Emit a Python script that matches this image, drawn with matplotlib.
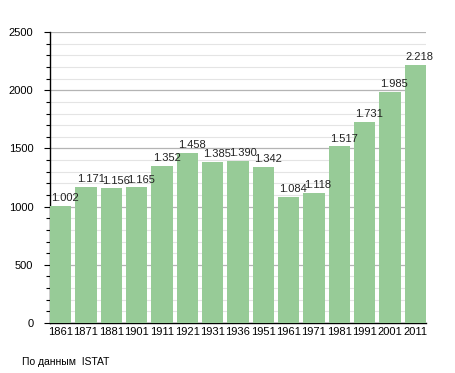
import matplotlib
matplotlib.use('Agg')
import matplotlib.pyplot as plt
from matplotlib.ticker import MultipleLocator

years = ['1861', '1871', '1881', '1901', '1911', '1921', '1931', '1936',
         '1951', '1961', '1971', '1981', '1991', '2001', '2011']
population = [1002, 1171, 1156, 1165, 1352, 1458, 1385, 1390,
              1342, 1084, 1118, 1517, 1731, 1985, 2218]
source = 'По данным  ISTAT'

plt.rcParams['font.family'] = ['Liberation Sans', 'DejaVu Sans']

fig = plt.figure(figsize=(4.55, 3.73), dpi=100)
ax = fig.add_axes([0.11, 0.134, 0.826, 0.78])

width = 0.84
x = list(range(len(years)))
ax.bar(x, population, width=width, color='#97cb97', zorder=3)

for xi, val in zip(x, population):
    label = '{:,}'.format(val).replace(',', '.')
    ax.text(xi - width / 2 + 0.05, val + 25, label, ha='left', va='bottom',
            fontsize=8, color='#222222', zorder=4)

ax.set_xlim(-width / 2, len(years) - 1 + width / 2)
ax.set_ylim(0, 2500)
ax.yaxis.set_major_locator(MultipleLocator(500))
ax.yaxis.set_minor_locator(MultipleLocator(100))
ax.grid(axis='y', which='major', color='#b4b4b4', linewidth=0.9, zorder=0)
ax.grid(axis='y', which='minor', color='#e4e4e4', linewidth=0.8, zorder=0)

ax.set_xticks(x)
ax.set_xticklabels(years)
ax.tick_params(axis='x', length=0, pad=3, labelsize=8)
ax.tick_params(axis='y', which='major', length=4, width=0.8, labelsize=8, pad=8)
ax.tick_params(axis='y', which='minor', length=3, width=0.8)

for side in ['top', 'right']:
    ax.spines[side].set_visible(False)
ax.spines['left'].set_linewidth(1.0)
ax.spines['bottom'].set_linewidth(1.0)

fig.text(22 / 455, 1 - 362 / 373, source, fontsize=7.5, va='center', ha='left')

fig.savefig('out.png', dpi=100)
